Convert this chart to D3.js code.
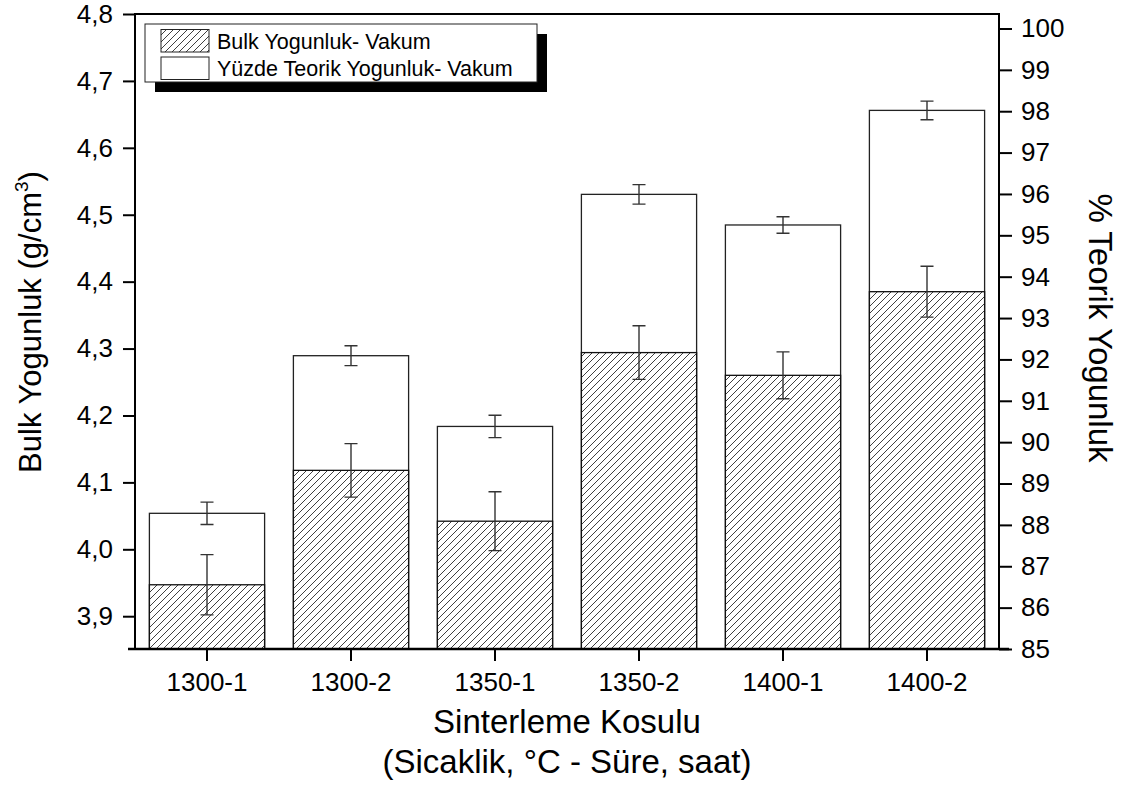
<!DOCTYPE html>
<html>
<head>
<meta charset="utf-8">
<script src="https://cdn.jsdelivr.net/npm/d3@7"></script>
<style>
  body { margin: 0; background: #fff; }
  text { font-family: "Liberation Sans", Arial, sans-serif; fill: #000; }
</style>
</head>
<body>
<script>
// Datos
var categories = ["1300-1", "1300-2", "1350-1", "1350-2", "1400-1", "1400-2"];
var bulk      = [3.947, 4.118, 4.042, 4.294, 4.260, 4.385];   // g/cm3
var bulkErr   = [0.045, 0.040, 0.044, 0.040, 0.035, 0.038];
var theo      = [88.28, 92.09, 90.38, 95.99, 95.25, 98.02];   // %
var theoErr   = [0.27, 0.24, 0.27, 0.235, 0.20, 0.225];
var leftTicks  = [3.9, 4.0, 4.1, 4.2, 4.3, 4.4, 4.5, 4.6, 4.7, 4.8];
var rightTicks = [85, 86, 87, 88, 89, 90, 91, 92, 93, 94, 95, 96, 97, 98, 99, 100];
var legendLabels = ["Bulk Yogunluk- Vakum", "Yüzde Teorik Yogunluk- Vakum"];

var W = 1129, H = 787;
var pL = 135, pR = 999, pT = 14, pB = 649;

var svg = d3.select("body").append("svg")
    .attr("width", W).attr("height", H);

// patron rayado
var pat = svg.append("defs").append("pattern")
    .attr("id", "hatch")
    .attr("patternUnits", "userSpaceOnUse")
    .attr("width", 7).attr("height", 7);
pat.append("rect").attr("width", 7).attr("height", 7).attr("fill", "#fff");
pat.append("path")
    .attr("d", "M-1,1 l2,-2 M0,7 l7,-7 M6,8 l2,-2")
    .attr("stroke", "#000").attr("stroke-width", 0.75);

var x = d3.scaleBand().domain(categories).range([pL, pR])
    .paddingInner(0.2).paddingOuter(0.1);
var yL = d3.scaleLinear().domain([3.851, 4.8]).range([pB, pT]);
var yR = d3.scaleLinear().domain([85, 100.35]).range([pB, pT]);

var rows = categories.map(function(c, i) {
  return {c: c, b: bulk[i], be: bulkErr[i], t: theo[i], te: theoErr[i]};
});

// barras blancas (eje derecho)
svg.selectAll(".tbar").data(rows).enter().append("rect")
    .attr("x", function(d) { return x(d.c); })
    .attr("y", function(d) { return yR(d.t); })
    .attr("width", x.bandwidth())
    .attr("height", function(d) { return pB - yR(d.t); })
    .attr("fill", "#fff").attr("stroke", "#222").attr("stroke-width", 1.3);

// barras rayadas (eje izquierdo)
svg.selectAll(".bbar").data(rows).enter().append("rect")
    .attr("x", function(d) { return x(d.c); })
    .attr("y", function(d) { return yL(d.b); })
    .attr("width", x.bandwidth())
    .attr("height", function(d) { return pB - yL(d.b); })
    .attr("fill", "url(#hatch)").attr("stroke", "#111").attr("stroke-width", 1.3);

// barras de error
function errBars(scale, v, e) {
  var g = svg.append("g").attr("stroke", "#333").attr("stroke-width", 1.4).attr("fill", "none");
  rows.forEach(function(d) {
    var cx = x(d.c) + x.bandwidth() / 2;
    var y1 = scale(d[v] + d[e]), y2 = scale(d[v] - d[e]);
    g.append("path").attr("d",
      "M" + cx + "," + y1 + "V" + y2 +
      "M" + (cx - 6.5) + "," + y1 + "h13" +
      "M" + (cx - 6.5) + "," + y2 + "h13");
  });
}
errBars(yL, "b", "be");
errBars(yR, "t", "te");

// ejes
var comma = function(d) { return d3.format(".1f")(d).replace(".", ","); };
function minor(arr, step) { return arr.slice(0, -1).map(function(v) { return v + step; }); }

var gl = svg.append("g").attr("transform", "translate(" + pL + ",0)");
gl.call(d3.axisLeft(yL).tickValues(minor(leftTicks, 0.05)).tickSize(6.5).tickFormat(""));
gl.call(d3.axisLeft(yL).tickValues(leftTicks).tickSize(12).tickPadding(10).tickFormat(comma));

var gr = svg.append("g").attr("transform", "translate(" + pR + ",0)");
gr.call(d3.axisRight(yR).tickValues(minor(rightTicks, 0.5)).tickSize(6.5).tickFormat(""));
gr.call(d3.axisRight(yR).tickValues(rightTicks).tickSize(13).tickPadding(9));

var gb = svg.append("g").attr("transform", "translate(0," + pB + ")");
gb.call(d3.axisBottom(x).tickSize(12).tickPadding(12).tickSizeOuter(0));

[gl, gr, gb].forEach(function(g) {
  g.selectAll("path.domain").remove();
  g.selectAll("line").attr("stroke", "#000").attr("stroke-width", 2);
  g.selectAll("text").attr("font-size", 26).attr("font-family", "Liberation Sans, Arial, sans-serif")
      .attr("fill", "#000");
});

// marco
svg.append("path")
    .attr("d", "M" + pL + "," + pB + "V" + pT + "H" + pR + "V" + pB)
    .attr("fill", "none").attr("stroke", "#000").attr("stroke-width", 2);
svg.append("line").attr("x1", pL - 7).attr("x2", pR + 10)
    .attr("y1", pB).attr("y2", pB)
    .attr("stroke", "#000").attr("stroke-width", 2.5);

// leyenda
var lg = svg.append("g");
lg.append("rect").attr("x", 155).attr("y", 34).attr("width", 392).attr("height", 58).attr("fill", "#000");
lg.append("rect").attr("x", 145).attr("y", 24).attr("width", 392).attr("height", 58)
    .attr("fill", "#fff").attr("stroke", "#222").attr("stroke-width", 1);
legendLabels.forEach(function(t, i) {
  var yy = 29.5 + i * 27.5;
  lg.append("rect").attr("x", 161).attr("y", yy).attr("width", 48).attr("height", 22.5)
      .attr("fill", i === 0 ? "url(#hatch)" : "#fff").attr("stroke", "#222").attr("stroke-width", 1);
  lg.append("text").attr("x", 217).attr("y", yy + 19)
      .attr("font-size", 21.5).text(t);
});

// titulos
var lt = svg.append("text")
    .attr("transform", "translate(41,322) rotate(-90)")
    .attr("text-anchor", "middle").attr("font-size", 31);
lt.append("tspan").text("Bulk Yogunluk (g/cm");
lt.append("tspan").attr("font-size", 19).attr("dy", -13).text("3");
lt.append("tspan").attr("dy", 13).text(")");

svg.append("text")
    .attr("transform", "translate(1089,328) rotate(90)")
    .attr("text-anchor", "middle").attr("font-size", 33)
    .text("% Teorik Yogunluk");

svg.append("text")
    .attr("x", (pL + pR) / 2).attr("y", 733)
    .attr("text-anchor", "middle").attr("font-size", 33)
    .text("Sinterleme Kosulu");
svg.append("text")
    .attr("x", (pL + pR) / 2).attr("y", 773)
    .attr("text-anchor", "middle").attr("font-size", 33)
    .text("(Sicaklik, °C - Süre, saat)");
</script>
</body>
</html>
